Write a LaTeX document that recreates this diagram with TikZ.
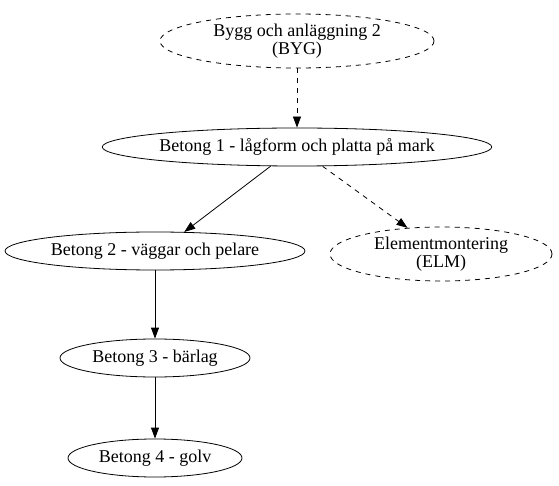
\documentclass[tikz,border=0pt]{standalone}
\usepackage{fontspec}
\setmainfont{Liberation Serif}
\usetikzlibrary{shapes.geometric,arrows.meta}
\begin{document}
\begin{tikzpicture}[x=1pt,y=1pt,
  nd/.style={draw,ellipse,line width=0.8pt,inner sep=0pt,font=\fontsize{18}{18.5}\selectfont,align=center},
  dsh/.style={dash pattern=on 5pt off 5pt},
  edge/.style={line width=0.8pt,-{Triangle[length=11pt,width=8pt]}}]
\useasboundingbox (0,0) rectangle (559,485);
\node[nd,dsh,minimum width=274,minimum height=54] (byg) at (297,444) {Bygg och anläggning 2\\(BYG)};
\node[nd,minimum width=388,minimum height=38] (b1) at (297,338) {Betong 1 - lågform och platta på mark};
\node[nd,minimum width=300,minimum height=38] (b2) at (155,234) {Betong 2 - väggar och pelare};
\node[nd,dsh,minimum width=222,minimum height=54] (elm) at (441,231) {Elementmontering\\(ELM)};
\node[nd,minimum width=190,minimum height=38] (b3) at (155,127) {Betong 3 - bärlag};
\node[nd,minimum width=174,minimum height=38] (b4) at (155,27) {Betong 4 - golv};
\draw[edge,dsh] (byg) -- (b1);
\draw[edge] (b1.216) -- (b2.33);
\draw[edge,dsh] (b1.323) -- (elm.142);
\draw[edge] (b2) -- (b3);
\draw[edge] (b3) -- (b4);
\end{tikzpicture}
\end{document}
